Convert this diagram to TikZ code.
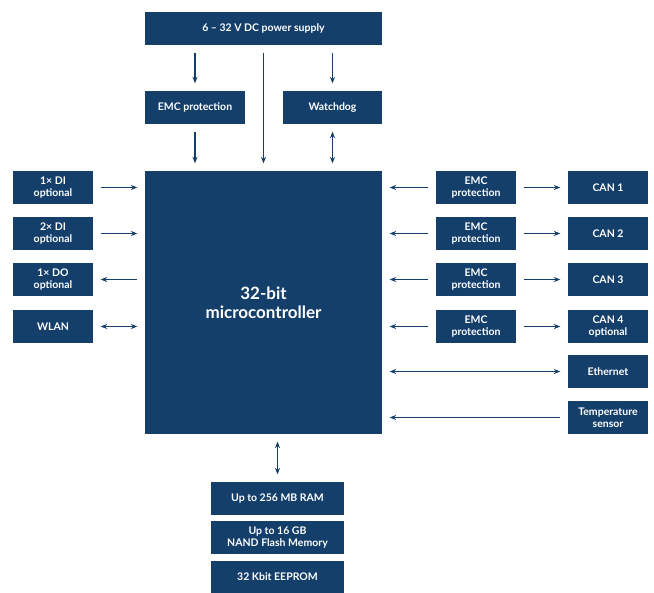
\documentclass[tikz,border=0pt]{standalone}
\usepackage{fontspec}
\setmainfont{Lato}
\usepackage{tikz}
\usetikzlibrary{arrows.meta, positioning}
\definecolor{navy}{HTML}{143F6B}

\begin{document}
\begin{tikzpicture}[x = 1pt, y = -1pt, >={Stealth[length=6.5pt, width=5pt]}, shorten >= 7pt, shorten <= 7pt, line width = 1.3pt, draw = navy]
  \tikzstyle{box} = [fill = navy, text = white, font = \fontsize{10.5}{12.5}\selectfont\bfseries, align = center, inner sep = 0pt, minimum height = 33pt, minimum width = 80pt]
  \useasboundingbox (0, 0) rectangle (654, 593);

  \node[box, minimum width = 237pt] (psu)  at (263.5, 28.5)  {6 – 32 V DC power supply};
  \node[box, minimum width = 100pt] (emct) at (195, 107.5)   {EMC protection};
  \node[box, minimum width = 99pt]  (wdog) at (332.5, 107.5) {Watchdog};
  \node[box, minimum width = 237pt, minimum height = 263pt, font = \fontsize{17}{19}\selectfont\bfseries] (mcu) at (263.5, 302.5) {32-bit\\microcontroller};

  \node[box] (di1)  at (53, 187.5) {1× DI\\optional};
  \node[box] (di2)  at (53, 233.5) {2× DI\\optional};
  \node[box] (do1)  at (53, 279.5) {1× DO\\optional};
  \node[box] (wlan) at (53, 326.5) {WLAN};

  \node[box] (emc1) at (476, 187.5) {EMC\\protection};
  \node[box] (emc2) at (476, 233.5) {EMC\\protection};
  \node[box] (emc3) at (476, 279.5) {EMC\\protection};
  \node[box] (emc4) at (476, 326.5) {EMC\\protection};

  \node[box] (can1) at (608, 187.5) {CAN 1};
  \node[box] (can2) at (608, 233.5) {CAN 2};
  \node[box] (can3) at (608, 279.5) {CAN 3};
  \node[box] (can4) at (608, 326.5) {CAN 4\\optional};
  \node[box] (eth)  at (608, 371.5) {Ethernet};
  \node[box] (temp) at (608, 417.5) {Temperature\\sensor};

  \node[box, minimum width = 133pt] (ram)  at (277.5, 498.5) {Up to 256 MB RAM};
  \node[box, minimum width = 133pt] (nand) at (277.5, 537.5) {Up to 16 GB\\NAND Flash Memory};
  \node[box, minimum width = 133pt, minimum height = 32pt] (eep) at (277.5, 577) {32 Kbit EEPROM};

  % power path
  \draw[->, navy] (psu.south -| emct) -- (emct);
  \draw[->, navy] (emct) -- (emct |- mcu.north);
  \draw[->, navy] (psu) -- (mcu);
  \draw[->, navy] (psu.south -| wdog) -- (wdog);
  \draw[<->, navy] (wdog) -- (wdog |- mcu.north);

  % left side
  \draw[->, navy] (di1) -- (di1 -| mcu.west);
  \draw[->, navy] (di2) -- (di2 -| mcu.west);
  \draw[<-, navy] (do1) -- (do1 -| mcu.west);
  \draw[<->, navy] (wlan) -- (wlan -| mcu.west);

  % right side
  \foreach \i in {1, 2, 3, 4} {
    \draw[->, navy] (emc\i) -- (emc\i -| mcu.east);
    \draw[->, navy] (emc\i) -- (can\i);
  }
  \draw[<->, navy] (eth) -- (eth -| mcu.east);
  \draw[->, navy] (temp) -- (temp -| mcu.east);

  % memory
  \draw[<->, navy] (ram) -- (ram |- mcu.south);
\end{tikzpicture}
\end{document}
